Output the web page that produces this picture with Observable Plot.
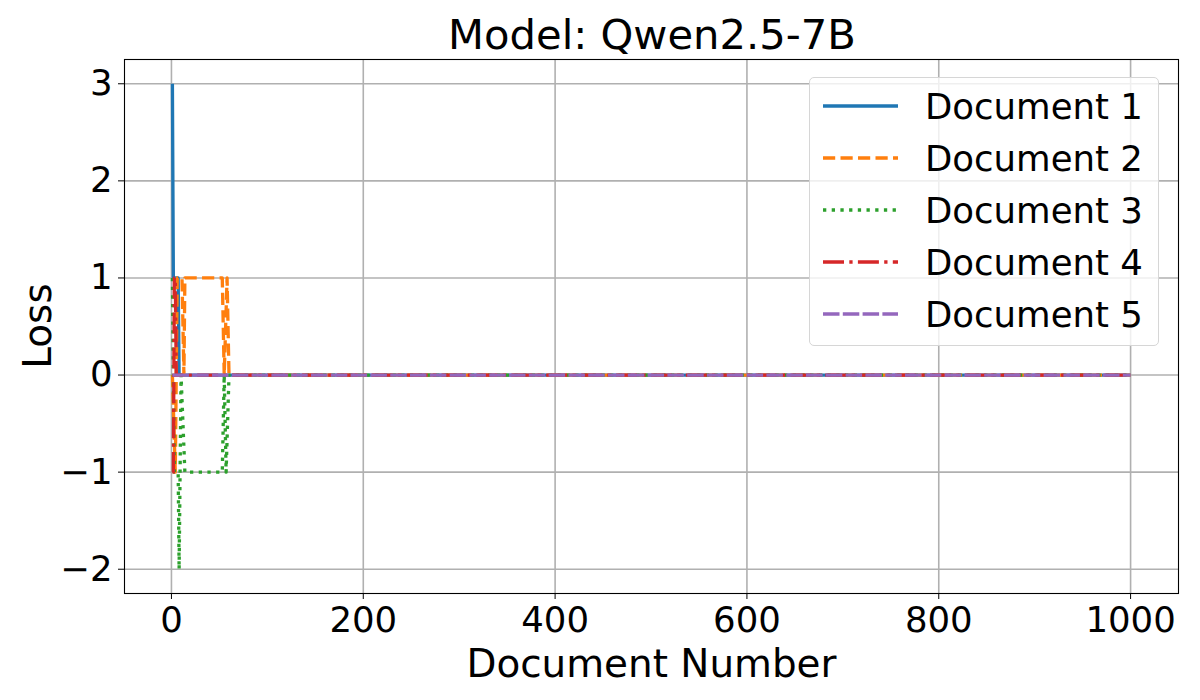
<!DOCTYPE html>
<html>
<head>
<meta charset="utf-8">
<script src="https://cdn.jsdelivr.net/npm/d3@7"></script>
<script src="https://cdn.jsdelivr.net/npm/@observablehq/plot@0.6"></script>
<style>
  html, body { margin: 0; padding: 0; background: #fff; }
  #wrap { position: relative; width: 1200px; height: 700px; font-family: "DejaVu Sans", sans-serif; }
  #title { height: 57px; width: 1200px; position: relative; }
  #title span { position: absolute; left: 652px; top: 14px; transform: translateX(-50%); font-size: 41.7px; white-space: nowrap; color: #000; line-height: 1; }
  #ylabel { position: absolute; left: 38px; top: 326px; transform: translate(-50%, -50%) rotate(-90deg); font-size: 38.9px; line-height: 1; white-space: nowrap; color: #000; }
  #legend { position: absolute; left: 809px; top: 77px; width: 350px; height: 269px; box-sizing: border-box;
            border: 1.3px solid #d6d6d6; border-radius: 5px; background: rgba(255,255,255,0.8); }
  #legend svg { position: absolute; left: 0; top: 0; overflow: visible; }
</style>
</head>
<body>
<div id="wrap">
  <div id="title"><span>Model: Qwen2.5-7B</span></div>
  <div id="chart"></div>
  <div id="ylabel">Loss</div>
  <div id="legend"></div>
</div>
<script>
// ---- data (vertices) ----
const seriesNames = ["Document 1", "Document 2", "Document 3", "Document 4", "Document 5"];
const doc1X = [1, 2, 7, 8, 1000];
const doc1Y = [3, 1, 1, 0, 0];
const doc2X = [1, 4, 6, 11, 13, 14, 53, 55, 58, 60, 1000];
const doc2Y = [0, -1, 1, 1, 0, 1, 1, 0, 1, 0, 0];
const doc3X = [1, 3, 7, 8, 9, 10, 14, 53, 55, 57, 60, 1000];
const doc3Y = [1, -1, -1, -2, -1, 0, -1, -1, 0, -1, 0, 0];
const doc4X = [1, 2, 3, 4, 5, 1000];
const doc4Y = [-1, -1, 1, 1, 0, 0];
const doc5X = [1, 1000];
const doc5Y = [0, 0];
const xTicks = [0, 200, 400, 600, 800, 1000];
const yTicks = [-2, -1, 0, 1, 2, 3];

const colors = ["#1f77b4", "#ff7f0e", "#2ca02c", "#d62728", "#9467bd"];
const dashes = [null, "12.2,5.3", "3.3,5.4", "21,5.3,3.3,5.3", "16.5,3.3"];
const xs = [doc1X, doc2X, doc3X, doc4X, doc5X];
const ys = [doc1Y, doc2Y, doc3Y, doc4Y, doc5Y];

const tables = xs.map((xarr, i) => xarr.map((x, j) => ({doc: seriesNames[i], x, y: ys[i][j]})));

const fmt = d => d < 0 ? "\u2212" + Math.abs(d) : String(d);
const LW = 3.3;

const marks = [
  Plot.gridX(xTicks, {stroke: "#b0b0b0", strokeOpacity: 1, strokeWidth: 1.6}),
  Plot.gridY(yTicks, {stroke: "#b0b0b0", strokeOpacity: 1, strokeWidth: 1.6}),
];
tables.forEach((t, i) => {
  marks.push(Plot.line(t, {
    x: "x", y: "y", stroke: colors[i], strokeWidth: LW,
    strokeDasharray: dashes[i] || undefined,
    strokeLinecap: "butt", strokeLinejoin: "round"
  }));
});
marks.push(
  Plot.frame({stroke: "#000", strokeWidth: 1.1}),
  Plot.axisX(xTicks, {tickSize: 6, tickPadding: 7, fontSize: 35.5, tickFormat: fmt, label: null, stroke: "#000"}),
  Plot.axisY(yTicks, {tickSize: 6, tickPadding: 6, fontSize: 35.5, tickFormat: fmt, label: null, stroke: "#000"}),
  Plot.text(["Document Number"], {frameAnchor: "bottom", dy: 83, fontSize: 38.9, fill: "#000"})
);

const chart = Plot.plot({
  width: 1200,
  height: 643,
  marginTop: 2,
  marginBottom: 107,
  marginLeft: 124,
  marginRight: 22,
  style: {fontFamily: "DejaVu Sans", color: "#000", background: "transparent", overflow: "visible"},
  x: {domain: [-48.95, 1049.95]},
  y: {domain: [-2.25, 3.25]},
  marks
});
document.getElementById("chart").appendChild(chart);

// legend
const ns = "http://www.w3.org/2000/svg";
const lsvg = document.createElementNS(ns, "svg");
lsvg.setAttribute("width", 350);
lsvg.setAttribute("height", 269);
seriesNames.forEach((name, i) => {
  const cy = 28 + 52 * i;
  const ln = document.createElementNS(ns, "line");
  ln.setAttribute("x1", 13); ln.setAttribute("x2", 88);
  ln.setAttribute("y1", cy); ln.setAttribute("y2", cy);
  ln.setAttribute("stroke", colors[i]);
  ln.setAttribute("stroke-width", LW);
  if (dashes[i]) ln.setAttribute("stroke-dasharray", dashes[i]);
  lsvg.appendChild(ln);
  const tx = document.createElementNS(ns, "text");
  tx.setAttribute("x", 115); tx.setAttribute("y", cy);
  tx.setAttribute("dy", "0.36em");
  tx.setAttribute("font-size", "35.5px");
  tx.setAttribute("font-family", "DejaVu Sans");
  tx.setAttribute("fill", "#000");
  tx.textContent = name;
  lsvg.appendChild(tx);
});
document.getElementById("legend").appendChild(lsvg);
</script>
</body>
</html>
